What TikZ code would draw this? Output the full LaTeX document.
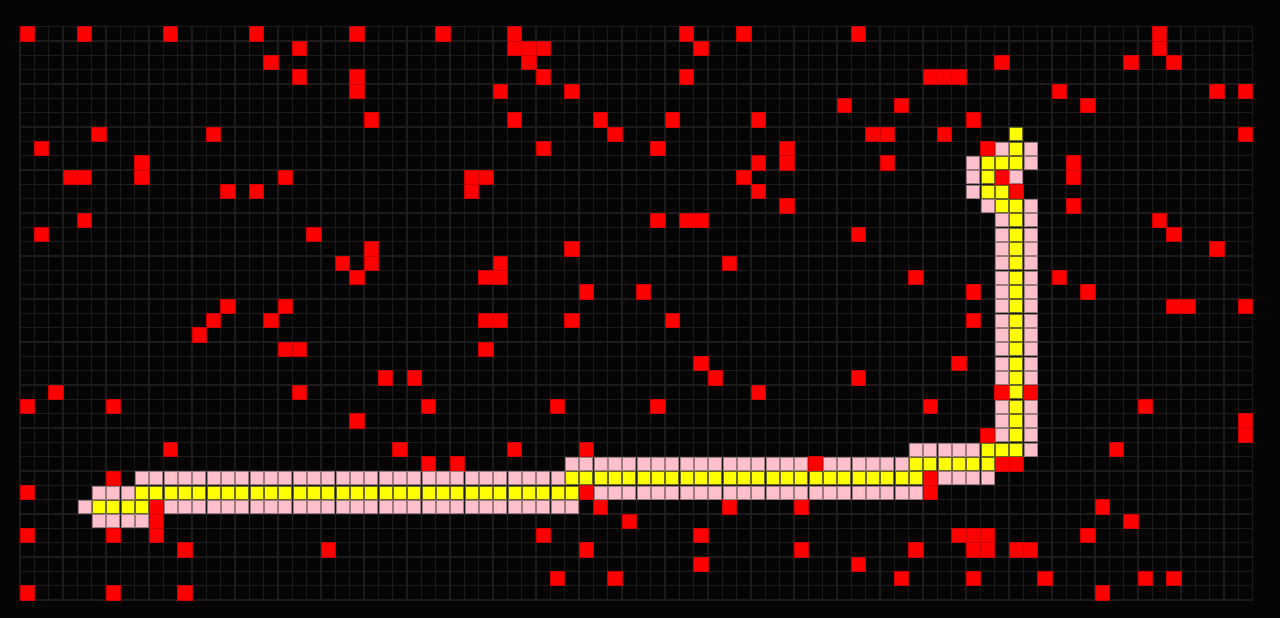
\documentclass[tikz,border=0pt]{standalone}
\usepackage{tikz}
\definecolor{bgcol}{HTML}{050505}
\definecolor{gridcol}{HTML}{1C1C1C}
\definecolor{redc}{HTML}{FF0000}
\definecolor{redline}{HTML}{D00000}
\definecolor{pinkc}{HTML}{FFC0CB}
\definecolor{pinkline}{HTML}{9A7C80}
\definecolor{yellowc}{HTML}{FFFF00}
\definecolor{yellowline}{HTML}{6A6A20}
\def\cellsz{14.3337}
\def\ox{20}
\def\oy{26.7}
\tikzset{
  gridline/.style={draw=gridcol, line width=0.7pt},
  redcell/.style={fill=redc, draw=redline, line width=0.35pt},
  pinkcell/.style={fill=pinkc, draw=pinkline, line width=0.4pt},
  yellowcell/.style={fill=yellowc, draw=yellowline, line width=0.4pt}
}
\begin{document}
\begin{tikzpicture}[x=0.5pt,y=-0.5pt]
\fill[bgcol] (0,0) rectangle (1280,618);
\useasboundingbox (0,0) rectangle (1280,618);
% grid
\foreach \i in {0,...,86} {
  \draw[gridline] ({\ox+\i*\cellsz},\oy) -- ({\ox+\i*\cellsz},{\oy+40*\cellsz});
}
\foreach \j in {0,...,40} {
  \draw[gridline] (\ox,{\oy+\j*\cellsz}) -- ({\ox+86*\cellsz},{\oy+\j*\cellsz});
}
% red cells
\foreach \r/\cl in {
  0/{0,4,10,16,23,29,34,46,50,58,79},
  1/{19,34,35,36,47,79},
  2/{17,35,68,77,80},
  3/{19,23,36,46,63,64,65},
  4/{23,33,38,72,83,85},
  5/{57,61,74},
  6/{24,34,40,45,51,66},
  7/{5,13,41,59,60,64,85},
  8/{1,36,44,53,67},
  9/{8,51,53,60,73},
  10/{3,4,8,18,31,32,50,68,73},
  11/{14,16,31,51,69},
  12/{53,73},
  13/{4,44,46,47,79},
  14/{1,20,58,80},
  15/{24,38,83},
  16/{22,24,33,49},
  17/{23,32,33,62,72},
  18/{39,43,66,74},
  19/{14,18,80,81,85},
  20/{13,17,32,33,38,45,66},
  21/{12},
  22/{18,19,32},
  23/{47,65},
  24/{25,27,48,58},
  25/{2,19,51,68,70},
  26/{0,6,28,37,44,63,78},
  27/{23,85},
  28/{67,85},
  29/{10,26,34,39,76},
  30/{28,30,55,68,69},
  31/{6,63},
  32/{0,39,63},
  33/{9,40,49,54,75},
  34/{9,42,77},
  35/{0,6,9,36,47,65,66,67,74},
  36/{11,21,39,54,62,66,67,69,70},
  37/{47,58},
  38/{37,41,61,66,71,78,80},
  39/{0,6,11,75}} {
  \foreach \c in \cl {
    \filldraw[redcell] ({\ox+\c*\cellsz},{\oy+\r*\cellsz}) rectangle +(\cellsz,\cellsz);
  }
}
% pink cells
\foreach \r/\cl in {
  8/{68,70}, 9/{66,70}, 10/{66,69}, 11/{66}, 12/{67,70},
  13/{68,70}, 14/{68,70}, 15/{68,70}, 16/{68,70}, 17/{68,70}, 18/{68,70},
  19/{68,70}, 20/{68,70}, 21/{68,70}, 22/{68,70}, 23/{68,70}, 24/{68,70},
  26/{68,70}, 27/{68,70}, 28/{68,70},
  29/{62,63,64,65,66,70},
  30/{38,39,40,41,42,43,44,45,46,47,48,49,50,51,52,53,54,56,57,58,59,60,61},
  31/{8,9,10,11,12,13,14,15,16,17,18,19,20,21,22,23,24,25,26,27,28,29,30,31,32,33,34,35,36,37,64,65,66,67},
  32/{5,6,7,40,41,42,43,44,45,46,47,48,49,50,51,52,53,54,55,56,57,58,59,60,61,62},
  33/{4,10,11,12,13,14,15,16,17,18,19,20,21,22,23,24,25,26,27,28,29,30,31,32,33,34,35,36,37,38},
  34/{5,6,7,8}} {
  \foreach \c in \cl {
    \filldraw[pinkcell] ({\ox+\c*\cellsz+0.7},{\oy+\r*\cellsz+0.7}) rectangle +({\cellsz-1.4},{\cellsz-1.4});
  }
}
% yellow cells
\foreach \r/\cl in {
  7/{69}, 8/{69}, 9/{67,68,69}, 10/{67}, 11/{67,68}, 12/{68,69},
  13/{69}, 14/{69}, 15/{69}, 16/{69}, 17/{69}, 18/{69}, 19/{69}, 20/{69},
  21/{69}, 22/{69}, 23/{69}, 24/{69}, 25/{69}, 26/{69}, 27/{69}, 28/{69},
  29/{67,68,69},
  30/{62,63,64,65,66,67},
  31/{38,39,40,41,42,43,44,45,46,47,48,49,50,51,52,53,54,55,56,57,58,59,60,61,62},
  32/{8,9,10,11,12,13,14,15,16,17,18,19,20,21,22,23,24,25,26,27,28,29,30,31,32,33,34,35,36,37,38},
  33/{5,6,7,8}} {
  \foreach \c in \cl {
    \filldraw[yellowcell] ({\ox+\c*\cellsz+0.7},{\oy+\r*\cellsz+0.7}) rectangle +({\cellsz-1.4},{\cellsz-1.4});
  }
}
\end{tikzpicture}
\end{document}
